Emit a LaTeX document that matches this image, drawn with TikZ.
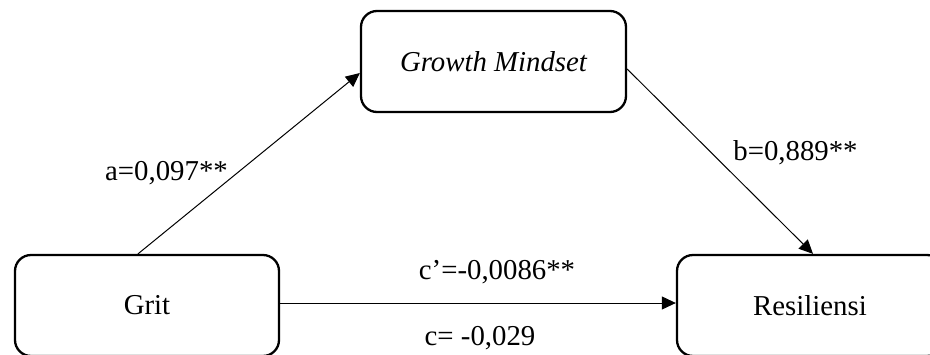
\documentclass[tikz,border=0pt]{standalone}
\usepackage{fontspec}
\setmainfont{Liberation Serif}
\usetikzlibrary{arrows.meta,calc}
\begin{document}
\begin{tikzpicture}[x=1pt,y=-1pt,
  box/.style={draw=black,line width=2.3pt,rounded corners=16pt,inner sep=0pt,
    minimum height=101pt,font=\fontsize{28.8}{34}\selectfont},
  conn/.style={draw=black,line width=1pt,-{Triangle[length=14pt,width=13pt]}},
  lbl/.style={inner sep=0pt,font=\fontsize{28.8}{34}\selectfont}]
\useasboundingbox (0,0) rectangle (930,354);
\clip (0,0) rectangle (930,354);
\node[box,minimum width=265pt] (gm) at (493.5,61.5) {\itshape Growth Mindset};
\node[box,minimum width=264pt] (grit) at (147,305.5) {Grit};
\node[box,minimum width=266pt] (res) at (810,305.5) {Resiliensi};
\coordinate (aS) at ($(grit.north)+(-9,0)$);
\coordinate (aE) at ($(gm.west)+(0,11.5)$);
\coordinate (bS) at ($(gm.east)+(0,7.5)$);
\coordinate (bE) at ($(res.north)+(3,0)$);
\draw[conn] (aS) -- (aE);
\draw[conn] (bS) -- (bE);
\draw[conn] (grit.east |- 0,303) -- (res.west |- 0,303);
\node[lbl] (la) at (166.5,173) {a=0,097**};
\node[lbl] (lb) at (795.5,153) {b=0,889**};
\node[lbl] (lc1) at (497,272) {c’=-0,0086**};
\node[lbl] (lc) at (480,338) {c= -0,029};
\end{tikzpicture}
\end{document}
